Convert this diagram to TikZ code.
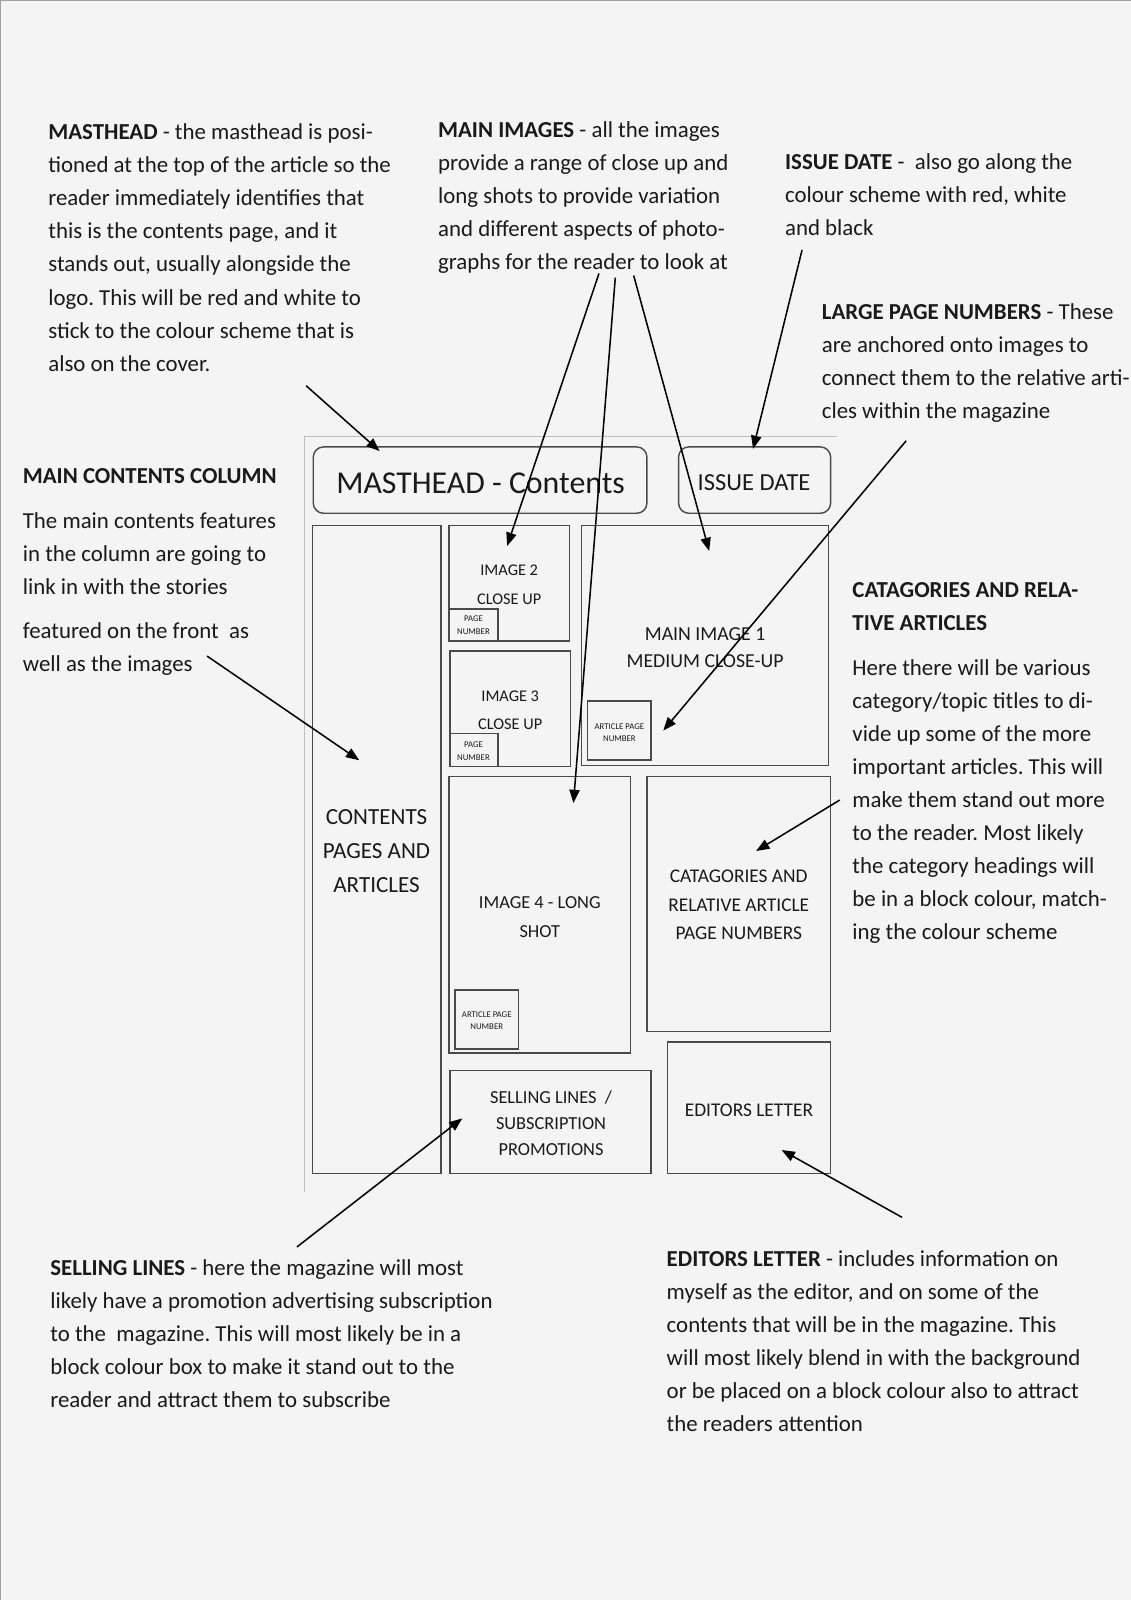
\documentclass[tikz,border=0pt]{standalone}
\usepackage{fontspec}
\setmainfont{Carlito}
\usetikzlibrary{arrows.meta}
\frenchspacing
\definecolor{pagegray}{HTML}{F4F4F4}
\definecolor{edgegray}{HTML}{A0A0A0}
\definecolor{framegray}{HTML}{BDBDBD}
\definecolor{boxline}{HTML}{4A4A4A}
\definecolor{inkblack}{HTML}{1A1A1A}
\tikzset{
  note/.style={anchor=north west, inner sep=0pt, align=left, text=inkblack,
    font=\fontsize{11.2}{16.2}\selectfont},
  layoutbox/.style={draw=boxline, line width=0.7pt, anchor=north west,
    inner sep=0pt, outer sep=0pt},
  roundbox/.style={layoutbox, rounded corners=5pt},
  boxtext/.style={align=center, inner sep=0pt, text=inkblack},
  pointer/.style={-{Triangle[length=6.5pt,width=5pt]}, line width=0.75pt, black},
}
\begin{document}
\begin{tikzpicture}[x=0.5pt, y=-0.5pt]
  % page
  \fill[pagegray] (0,0) rectangle (1108,1568);
  \useasboundingbox (0,0) rectangle (1108,1568);
  \draw[edgegray, line width=0.6pt] (1108,0.5) -- (0.5,0.5) -- (0.5,1568);
  \draw[framegray, line width=0.5pt] (820,428) -- (298,428) -- (298,1168);

  % notes round the layout
  \node[note] (mastnote) at (47,121) {\textbf{MASTHEAD} - the masthead is posi-\\
    tioned at the top of the article so the\\
    reader immediately identifies that\\
    this is the contents page, and it\\
    stands out, usually alongside the\\
    logo. This will be red and white to\\
    stick to the colour scheme that is\\
    also on the cover.};
  \node[note] (imgnote) at (429,119) {\textbf{MAIN IMAGES} - all the images\\
    provide a range of close up and\\
    long shots to provide variation\\
    and different aspects of photo-\\
    graphs for the reader to look at};
  \node[note] (datenote) at (769,150) {\textbf{ISSUE DATE} -~ also go along the\\
    colour scheme with red, white\\
    and black};
  \node[note] (numnote) at (805,297) {\textbf{LARGE PAGE NUMBERS} - These\\
    are anchored onto images to\\
    connect them to the relative arti-\\
    cles within the magazine};
  \node[note] (colnote) at (22,459) {\textbf{MAIN CONTENTS COLUMN}\\[5.5pt]
    The main contents features\\
    in the column are going to\\
    link in with the stories\\[5.5pt]
    featured on the front~ as\\
    well as the images};
  \node[note] (catnote) at (835,570) {\textbf{CATAGORIES AND RELA-}\\
    \textbf{TIVE ARTICLES}\\[6pt]
    Here there will be various\\
    category/topic titles to di-\\
    vide up some of the more\\
    important articles. This will\\
    make them stand out more\\
    to the reader. Most likely\\
    the category headings will\\
    be in a block colour, match-\\
    ing the colour scheme};
  \node[note] (sellnote) at (49,1234) {\textbf{SELLING LINES} - here the magazine will most\\
    likely have a promotion advertising subscription\\
    to the~ magazine. This will most likely be in a\\
    block colour box to make it stand out to the\\
    reader and attract them to subscribe};
  \node[note] (ednote) at (653,1225) {\textbf{EDITORS LETTER} - includes information on\\
    myself as the editor, and on some of the\\
    contents that will be in the magazine. This\\
    will most likely blend in with the background\\
    or be placed on a block colour also to attract\\
    the readers attention};

  % layout boxes
  \node[roundbox, minimum width=163.5pt, minimum height=32.5pt] (mast) at (307,438) {};
  \node[roundbox, minimum width=74.5pt, minimum height=32.5pt] (issue) at (665,438) {};
  \node[layoutbox, minimum width=63pt, minimum height=317.5pt] (contents) at (306,515) {};
  \node[layoutbox, minimum width=59pt, minimum height=56.5pt] (imgtwo) at (440,515) {};
  \node[layoutbox, minimum width=24pt, minimum height=15.5pt] (pntwo) at (440,597) {};
  \node[layoutbox, minimum width=59pt, minimum height=56.5pt] (imgthree) at (441,638) {};
  \node[layoutbox, minimum width=23.5pt, minimum height=16pt] (pnthree) at (441,719) {};
  \node[layoutbox, minimum width=121pt, minimum height=117.5pt] (imgone) at (570,515) {};
  \node[layoutbox, minimum width=31pt, minimum height=29pt] (apnone) at (576,687) {};
  \node[layoutbox, minimum width=89pt, minimum height=135.5pt] (imgfour) at (440,761) {};
  \node[layoutbox, minimum width=31pt, minimum height=29pt] (apnfour) at (446,970) {};
  \node[layoutbox, minimum width=90pt, minimum height=125pt] (cats) at (634,761) {};
  \node[layoutbox, minimum width=98.5pt, minimum height=50.5pt] (sell) at (441,1049) {};
  \node[layoutbox, minimum width=80pt, minimum height=64.5pt] (editor) at (654,1021) {};

  % box texts
  \node[boxtext, font=\fontsize{15.6}{18}\selectfont] (mastlabel) at (471,474) {MASTHEAD - Contents};
  \node[boxtext, font=\fontsize{12}{14}\selectfont] (issuelabel) at (739,473) {ISSUE DATE};
  \node[boxtext, font=\fontsize{11.3}{16.5}\selectfont] (contentslabel) at (369,834) {CONTENTS\\PAGES AND\\ARTICLES};
  \node[boxtext, font=\fontsize{8}{14}\selectfont] (imgtwolabel) at (499,573) {IMAGE 2\\CLOSE UP};
  \node[boxtext, font=\fontsize{8}{14}\selectfont] (imgthreelabel) at (500,696) {IMAGE 3\\CLOSE UP};
  \node[boxtext, font=\fontsize{4.3}{6.5}\selectfont] (pntwolabel) at (464,613) {PAGE\\NUMBER};
  \node[boxtext, font=\fontsize{4.3}{6.5}\selectfont] (pnthreelabel) at (464,736) {PAGE\\NUMBER};
  \node[boxtext, font=\fontsize{9.7}{13.5}\selectfont] (imgonelabel) at (691,634.5) {MAIN IMAGE 1\\MEDIUM CLOSE-UP};
  \node[boxtext, font=\fontsize{4.3}{6}\selectfont] (apnonelabel) at (607,718) {ARTICLE PAGE\\NUMBER};
  \node[boxtext, font=\fontsize{9}{14}\selectfont] (imgfourlabel) at (529,899) {IMAGE 4 - LONG\\SHOT};
  \node[boxtext, font=\fontsize{4.3}{6}\selectfont] (apnfourlabel) at (477,1000.5) {ARTICLE PAGE\\NUMBER};
  \node[boxtext, font=\fontsize{9.5}{14}\selectfont] (catslabel) at (724,887) {CATAGORIES AND\\RELATIVE ARTICLE\\PAGE NUMBERS};
  \node[boxtext, font=\fontsize{9}{12.75}\selectfont] (selllabel) at (540,1101) {SELLING LINES~ /\\SUBSCRIPTION\\PROMOTIONS};
  \node[boxtext, font=\fontsize{9.5}{12}\selectfont] (editorlabel) at (734,1088) {EDITORS LETTER};

  % pointer ends
  \coordinate (mastfrom) at (300,378);   \coordinate (mastto) at (372,442);
  \coordinate (imgfroma) at (587,268);   \coordinate (imgtoa) at (497,535);
  \coordinate (imgfromb) at (603,272);   \coordinate (imgtob) at (562,787);
  \coordinate (imgfromc) at (621,270);   \coordinate (imgtoc) at (695,540);
  \coordinate (datefrom) at (786,245);   \coordinate (dateto) at (738,440);
  \coordinate (numfrom) at (888,432);    \coordinate (numto) at (650,716);
  \coordinate (colfrom) at (203,643);    \coordinate (colto) at (352,745);
  \coordinate (catfrom) at (823,784);    \coordinate (catto) at (741,834);
  \coordinate (sellfrom) at (291,1222);  \coordinate (sellto) at (453,1096);
  \coordinate (edfrom) at (884,1193);    \coordinate (edto) at (766,1127);

  \foreach \a/\b in {mastfrom/mastto, imgfroma/imgtoa, imgfromb/imgtob,
      imgfromc/imgtoc, datefrom/dateto, numfrom/numto, colfrom/colto,
      catfrom/catto, sellfrom/sellto, edfrom/edto}
    \draw[pointer] (\a) -- (\b);
\end{tikzpicture}
\end{document}
